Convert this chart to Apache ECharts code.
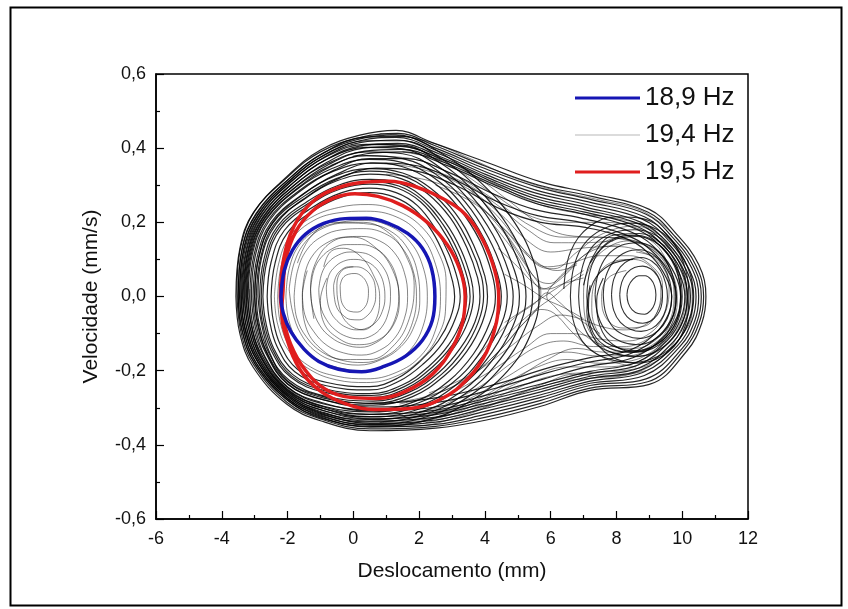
<!DOCTYPE html>
<html>
<head>
<meta charset="utf-8">
<script src="https://cdn.jsdelivr.net/npm/echarts@6/dist/echarts.min.js"></script>
<style>
html,body{margin:0;padding:0;background:#fff;}
#chart{width:848px;height:609px;}
</style>
</head>
<body>
<div id="chart"></div>
<script>
// Phase portraits: displacement (mm) vs velocity (mm/s)
const seriesNames = ['18,9 Hz', '19,4 Hz', '19,5 Hz'];

// 18,9 Hz — single periodic orbit in the left well
const orbit189 = [
  [-2.20,0.00],[-2.10,0.070],[-1.85,0.125],[-1.45,0.168],[-0.90,0.197],[-0.25,0.210],
  [0.40,0.211],[1.05,0.198],[1.65,0.170],[2.10,0.130],[2.38,0.075],[2.48,0.000],
  [2.40,-0.065],[2.10,-0.118],[1.60,-0.160],[0.95,-0.188],[0.25,-0.203],[-0.45,-0.196],
  [-1.05,-0.175],[-1.50,-0.142],[-1.90,-0.095],[-2.13,-0.045],[-2.20,0.00]
];

// 19,5 Hz — period-two orbit (outer loop followed by inner loop)
const orbit195 = [
  [-2.22,0.00],[-2.12,0.10],[-1.80,0.19],[-1.25,0.255],[-0.50,0.292],[0.30,0.308],[1.10,0.311],
  [1.90,0.296],[2.70,0.265],[3.40,0.222],[3.95,0.150],[4.30,0.070],[4.42,0.000],[4.35,-0.070],
  [4.05,-0.150],[3.50,-0.220],[2.70,-0.275],[1.70,-0.302],[0.70,-0.305],[-0.20,-0.290],
  [-1.00,-0.255],[-1.60,-0.200],[-2.00,-0.120],[-2.18,-0.040],
  [-2.15,0.00],[-2.05,0.10],[-1.75,0.175],[-1.25,0.230],[-0.60,0.265],[0.05,0.277],[0.75,0.270],
  [1.50,0.245],[2.25,0.200],[2.85,0.140],[3.25,0.070],[3.40,0.000],[3.32,-0.070],[3.00,-0.140],
  [2.40,-0.210],[1.60,-0.255],[0.70,-0.275],[-0.10,-0.272],[-0.85,-0.250],[-1.45,-0.200],
  [-1.90,-0.130],[-2.15,-0.050],[-2.22,0.00]
];

// 19,4 Hz — chaotic response, loops around both wells
const bothWellLoops = [
  [[-3.57,0],[-3.45,0.13],[-3.05,0.225],[-2.0,0.325],[-1.0,0.395],[0.2,0.435],[1.3,0.448],[2.4,0.415],[4.05,0.362],[5.7,0.309],[7.3,0.277],[9.0,0.235],[9.8,0.171],[10.5,0.086],[10.72,0],[10.6,-0.07],[10.14,-0.147],[9.0,-0.237],[7.2,-0.253],[5.7,-0.296],[4.05,-0.333],[2.5,-0.355],[0.5,-0.362],[-1.0,-0.335],[-2.03,-0.29],[-3.05,-0.19],[-3.45,-0.10],[-3.57,0]],
  [[-3.54,0.02],[-3.42,0.135],[-3.0,0.23],[-2.0,0.322],[-1.0,0.39],[0.25,0.43],[1.35,0.44],[2.45,0.408],[4.0,0.352],[5.65,0.3],[7.25,0.27],[8.95,0.228],[9.75,0.165],[10.42,0.083],[10.65,0.0],[10.52,-0.07],[10.06,-0.143],[8.95,-0.23],[7.2,-0.247],[5.7,-0.288],[4.0,-0.326],[2.5,-0.35],[0.5,-0.357],[-1.0,-0.33],[-2.02,-0.285],[-3.02,-0.185],[-3.42,-0.095],[-3.54,0.02]],
  [[-3.50,0],[-3.38,0.13],[-2.95,0.225],[-1.95,0.318],[-0.95,0.385],[0.2,0.425],[1.3,0.436],[2.5,0.40],[4.0,0.345],[5.6,0.295],[7.2,0.262],[8.9,0.222],[9.7,0.16],[10.35,0.08],[10.58,0],[10.45,-0.068],[10.0,-0.14],[8.9,-0.222],[7.2,-0.24],[5.7,-0.28],[4.0,-0.318],[2.5,-0.345],[0.5,-0.352],[-1.0,-0.325],[-2.0,-0.28],[-3.0,-0.18],[-3.38,-0.09],[-3.50,0]],
  [[-3.46,0],[-3.34,0.127],[-2.9,0.222],[-1.92,0.314],[-0.92,0.38],[0.2,0.42],[1.3,0.429],[2.55,0.393],[4.0,0.337],[5.55,0.287],[7.15,0.255],[8.85,0.215],[9.65,0.155],[10.28,0.078],[10.5,0],[10.38,-0.066],[9.92,-0.136],[8.85,-0.213],[7.2,-0.234],[5.7,-0.272],[4.0,-0.31],[2.5,-0.339],[0.5,-0.347],[-1.0,-0.32],[-2.0,-0.275],[-2.96,-0.178],[-3.34,-0.087],[-3.46,0]],
  [[-3.42,0],[-3.30,0.125],[-2.85,0.22],[-1.9,0.31],[-0.9,0.375],[0.2,0.415],[1.3,0.422],[2.6,0.385],[4.0,0.33],[5.5,0.28],[7.1,0.248],[8.8,0.208],[9.6,0.15],[10.2,0.075],[10.42,0],[10.3,-0.064],[9.85,-0.133],[8.8,-0.205],[7.2,-0.228],[5.7,-0.265],[4.0,-0.302],[2.5,-0.333],[0.5,-0.342],[-1.0,-0.315],[-2.0,-0.27],[-2.92,-0.175],[-3.3,-0.085],[-3.42,0]],
  [[-3.37,0],[-3.25,0.122],[-2.8,0.218],[-1.85,0.305],[-0.85,0.368],[0.25,0.407],[1.35,0.413],[2.65,0.377],[4.05,0.322],[5.5,0.272],[7.05,0.241],[8.75,0.2],[9.55,0.145],[10.12,0.072],[10.33,0],[10.21,-0.062],[9.78,-0.129],[8.75,-0.198],[7.2,-0.221],[5.7,-0.257],[4.0,-0.295],[2.45,-0.326],[0.5,-0.336],[-1.0,-0.31],[-2.0,-0.266],[-2.88,-0.172],[-3.25,-0.082],[-3.37,0]],
  [[-3.32,0],[-3.2,0.12],[-2.75,0.215],[-1.8,0.30],[-0.8,0.362],[0.3,0.40],[1.4,0.405],[2.7,0.37],[4.1,0.315],[5.5,0.265],[7.0,0.235],[8.7,0.195],[9.5,0.14],[10.05,0.07],[10.25,0],[10.13,-0.06],[9.7,-0.125],[8.7,-0.192],[7.2,-0.215],[5.7,-0.25],[4.0,-0.288],[2.4,-0.32],[0.5,-0.33],[-1.0,-0.305],[-2.0,-0.262],[-2.85,-0.17],[-3.2,-0.08],[-3.32,0]],
  [[-3.27,0],[-3.15,0.117],[-2.7,0.212],[-1.75,0.296],[-0.75,0.356],[0.35,0.392],[1.45,0.397],[2.75,0.362],[4.15,0.307],[5.5,0.258],[7.0,0.228],[8.65,0.188],[9.45,0.135],[9.98,0.068],[10.16,0],[10.05,-0.058],[9.62,-0.121],[8.65,-0.185],[7.2,-0.208],[5.7,-0.243],[4.0,-0.281],[2.4,-0.314],[0.5,-0.324],[-1.0,-0.3],[-2.0,-0.257],[-2.8,-0.167],[-3.15,-0.079],[-3.27,0]],
  [[-3.22,0],[-3.1,0.115],[-2.65,0.21],[-1.7,0.292],[-0.7,0.35],[0.4,0.385],[1.5,0.39],[2.8,0.355],[4.2,0.30],[5.5,0.252],[7.0,0.222],[8.6,0.182],[9.4,0.13],[9.9,0.065],[10.08,0],[9.97,-0.056],[9.55,-0.118],[8.6,-0.178],[7.2,-0.202],[5.7,-0.236],[4.0,-0.275],[2.4,-0.308],[0.5,-0.318],[-1.0,-0.295],[-2.0,-0.252],[-2.78,-0.165],[-3.1,-0.078],[-3.22,0]],
  [[-3.1,0],[-2.98,0.11],[-2.55,0.205],[-1.6,0.285],[-0.6,0.34],[0.5,0.372],[1.6,0.372],[2.9,0.335],[4.3,0.275],[5.5,0.235],[6.9,0.212],[8.5,0.172],[9.3,0.12],[9.78,0.06],[9.95,0],[9.84,-0.055],[9.4,-0.112],[8.5,-0.165],[7.1,-0.19],[5.8,-0.222],[4.2,-0.262],[2.5,-0.298],[0.5,-0.308],[-1.0,-0.285],[-2.0,-0.244],[-2.7,-0.16],[-3.0,-0.075],[-3.1,0]],
  [[-3.0,0],[-2.88,0.105],[-2.45,0.2],[-1.5,0.277],[-0.5,0.33],[0.6,0.36],[1.7,0.356],[3.0,0.318],[4.4,0.255],[5.6,0.218],[6.9,0.2],[8.4,0.162],[9.2,0.112],[9.65,0.055],[9.82,0],[9.72,-0.052],[9.3,-0.105],[8.4,-0.155],[7.1,-0.178],[5.8,-0.208],[4.3,-0.248],[2.6,-0.285],[0.5,-0.298],[-1.0,-0.276],[-2.0,-0.236],[-2.62,-0.155],[-2.9,-0.072],[-3.0,0]],
  [[-2.9,0],[-2.8,0.1],[-2.35,0.195],[-1.4,0.27],[-0.4,0.32],[0.7,0.346],[1.8,0.34],[3.1,0.3],[4.5,0.235],[5.7,0.2],[7.0,0.187],[8.4,0.152],[9.1,0.105],[9.52,0.05],[9.68,0],[9.58,-0.048],[9.2,-0.098],[8.4,-0.145],[7.2,-0.165],[5.9,-0.193],[4.4,-0.235],[2.6,-0.272],[0.5,-0.288],[-1.0,-0.268],[-2.0,-0.228],[-2.55,-0.15],[-2.8,-0.07],[-2.9,0]]
];

// 19,4 Hz — large loops confined to the left well, turning near the saddle
const leftOuterLoops = [
  [[-3.5,0],[-3.38,0.128],[-2.95,0.222],[-1.95,0.318],[-0.85,0.39],[0.35,0.43],[1.45,0.432],[2.7,0.385],[3.9,0.305],[4.9,0.2],[5.5,0.09],[5.65,0],[5.4,-0.1],[4.7,-0.2],[3.6,-0.28],[2.3,-0.332],[0.6,-0.35],[-0.9,-0.33],[-2.0,-0.28],[-2.98,-0.183],[-3.4,-0.088],[-3.5,0]],
  [[-3.45,0],[-3.33,0.125],[-2.9,0.22],[-1.9,0.315],[-0.8,0.385],[0.4,0.42],[1.5,0.42],[2.7,0.37],[3.8,0.29],[4.7,0.19],[5.3,0.08],[5.45,0],[5.2,-0.09],[4.5,-0.19],[3.5,-0.27],[2.2,-0.325],[0.6,-0.345],[-0.9,-0.325],[-2.0,-0.275],[-2.95,-0.18],[-3.35,-0.085],[-3.45,0]],
  [[-3.4,0],[-3.27,0.122],[-2.85,0.218],[-1.88,0.31],[-0.8,0.378],[0.4,0.41],[1.5,0.408],[2.65,0.36],[3.7,0.28],[4.55,0.18],[5.1,0.075],[5.25,0],[5.02,-0.085],[4.35,-0.182],[3.4,-0.262],[2.15,-0.318],[0.6,-0.338],[-0.9,-0.32],[-2.0,-0.27],[-2.9,-0.176],[-3.3,-0.083],[-3.4,0]],
  [[-3.35,0],[-3.22,0.12],[-2.8,0.215],[-1.85,0.305],[-0.8,0.37],[0.4,0.402],[1.5,0.398],[2.6,0.35],[3.6,0.27],[4.4,0.17],[4.9,0.07],[5.05,0],[4.85,-0.08],[4.2,-0.175],[3.3,-0.255],[2.1,-0.31],[0.6,-0.332],[-0.9,-0.315],[-2.0,-0.265],[-2.88,-0.172],[-3.25,-0.082],[-3.35,0]],
  [[-3.3,0],[-3.17,0.118],[-2.75,0.212],[-1.8,0.3],[-0.75,0.36],[0.4,0.39],[1.5,0.385],[2.55,0.34],[3.5,0.262],[4.25,0.165],[4.72,0.068],[4.86,0],[4.66,-0.078],[4.05,-0.17],[3.2,-0.248],[2.05,-0.302],[0.6,-0.325],[-0.9,-0.308],[-2.0,-0.26],[-2.84,-0.168],[-3.2,-0.08],[-3.3,0]],
  [[-3.25,0],[-3.12,0.118],[-2.7,0.21],[-1.75,0.295],[-0.7,0.352],[0.4,0.38],[1.5,0.372],[2.5,0.33],[3.4,0.255],[4.1,0.16],[4.55,0.065],[4.68,0],[4.5,-0.075],[3.9,-0.165],[3.1,-0.24],[2.0,-0.295],[0.6,-0.318],[-0.9,-0.302],[-2.0,-0.255],[-2.8,-0.165],[-3.15,-0.08],[-3.25,0]],
  [[-3.2,0],[-3.07,0.114],[-2.65,0.207],[-1.7,0.29],[-0.65,0.345],[0.45,0.37],[1.5,0.361],[2.45,0.32],[3.3,0.248],[3.98,0.155],[4.38,0.062],[4.5,0],[4.32,-0.072],[3.78,-0.16],[3.0,-0.234],[1.95,-0.288],[0.6,-0.311],[-0.9,-0.296],[-2.0,-0.25],[-2.76,-0.162],[-3.1,-0.078],[-3.2,0]],
  [[-3.15,0],[-3.02,0.112],[-2.6,0.205],[-1.65,0.285],[-0.6,0.338],[0.5,0.36],[1.5,0.35],[2.4,0.31],[3.2,0.24],[3.85,0.15],[4.22,0.06],[4.32,0],[4.15,-0.07],[3.65,-0.155],[2.9,-0.228],[1.9,-0.282],[0.6,-0.305],[-0.9,-0.29],[-2.0,-0.245],[-2.72,-0.16],[-3.05,-0.077],[-3.15,0]],
  [[-3.05,0],[-2.92,0.108],[-2.5,0.2],[-1.55,0.275],[-0.55,0.325],[0.5,0.345],[1.5,0.333],[2.35,0.292],[3.1,0.225],[3.65,0.14],[4.0,0.055],[4.08,0],[3.92,-0.07],[3.45,-0.148],[2.75,-0.215],[1.8,-0.27],[0.6,-0.293],[-0.9,-0.279],[-2.0,-0.236],[-2.65,-0.155],[-2.96,-0.073],[-3.05,0]],
  [[-3.0,0],[-2.87,0.106],[-2.45,0.198],[-1.5,0.27],[-0.52,0.318],[0.5,0.338],[1.48,0.326],[2.3,0.285],[3.02,0.218],[3.55,0.136],[3.9,0.052],[3.96,0],[3.8,-0.069],[3.35,-0.144],[2.68,-0.21],[1.75,-0.264],[0.6,-0.288],[-0.9,-0.274],[-1.98,-0.231],[-2.62,-0.152],[-2.92,-0.071],[-3.0,0]],
  [[-2.95,0],[-2.82,0.104],[-2.4,0.195],[-1.45,0.265],[-0.5,0.312],[0.5,0.33],[1.45,0.318],[2.25,0.278],[2.95,0.212],[3.45,0.132],[3.78,0.05],[3.85,0],[3.7,-0.068],[3.25,-0.14],[2.6,-0.205],[1.7,-0.258],[0.6,-0.282],[-0.9,-0.268],[-1.95,-0.226],[-2.58,-0.15],[-2.87,-0.07],[-2.95,0]],
  [[-2.85,0],[-2.72,0.1],[-2.3,0.19],[-1.4,0.256],[-0.45,0.3],[0.5,0.316],[1.4,0.305],[2.15,0.265],[2.8,0.2],[3.28,0.125],[3.58,0.048],[3.65,0],[3.5,-0.065],[3.08,-0.135],[2.45,-0.196],[1.6,-0.248],[0.6,-0.272],[-0.9,-0.258],[-1.9,-0.218],[-2.5,-0.145],[-2.77,-0.068],[-2.85,0]],
  [[-2.8,0],[-2.67,0.098],[-2.25,0.187],[-1.35,0.252],[-0.42,0.295],[0.5,0.31],[1.38,0.298],[2.1,0.26],[2.72,0.195],[3.18,0.122],[3.48,0.046],[3.55,0],[3.4,-0.064],[3.0,-0.132],[2.38,-0.192],[1.55,-0.243],[0.55,-0.267],[-0.9,-0.253],[-1.88,-0.214],[-2.46,-0.142],[-2.72,-0.067],[-2.8,0]],
  [[-2.75,0],[-2.62,0.097],[-2.2,0.184],[-1.3,0.248],[-0.4,0.29],[0.5,0.303],[1.35,0.292],[2.05,0.255],[2.65,0.19],[3.1,0.118],[3.38,0.045],[3.45,0],[3.3,-0.063],[2.9,-0.13],[2.3,-0.188],[1.5,-0.238],[0.5,-0.262],[-0.9,-0.248],[-1.85,-0.21],[-2.42,-0.14],[-2.67,-0.066],[-2.75,0]],
  [[-2.62,0],[-2.5,0.093],[-2.1,0.178],[-1.25,0.24],[-0.35,0.28],[0.5,0.292],[1.3,0.28],[1.95,0.245],[2.5,0.182],[2.92,0.112],[3.18,0.043],[3.25,0],[3.1,-0.06],[2.72,-0.125],[2.15,-0.18],[1.4,-0.228],[0.5,-0.252],[-0.85,-0.24],[-1.78,-0.203],[-2.32,-0.135],[-2.55,-0.064],[-2.62,0]],
  [[-2.5,0],[-2.38,0.09],[-2.0,0.172],[-1.2,0.232],[-0.3,0.27],[0.5,0.28],[1.25,0.268],[1.88,0.234],[2.4,0.175],[2.78,0.107],[3.02,0.04],[3.08,0],[2.95,-0.058],[2.58,-0.12],[2.05,-0.173],[1.35,-0.22],[0.5,-0.243],[-0.8,-0.232],[-1.7,-0.196],[-2.22,-0.13],[-2.44,-0.062],[-2.5,0]]
];

// 19,4 Hz — small loops and spirals around the left equilibrium
const leftInnerLoops = [
  [[-2.4,0],[-2.28,0.085],[-1.95,0.16],[-1.3,0.212],[-0.45,0.24],[0.45,0.248],[1.3,0.232],[2.05,0.19],[2.58,0.12],[2.82,0.04],[2.8,-0.04],[2.55,-0.11],[2.05,-0.17],[1.3,-0.215],[0.4,-0.232],[-0.5,-0.225],[-1.3,-0.198],[-1.95,-0.148],[-2.3,-0.075],[-2.4,0]],
  [[-2.3,0],[-2.2,0.08],[-1.9,0.15],[-1.3,0.2],[-0.5,0.225],[0.4,0.23],[1.3,0.215],[2.0,0.17],[2.45,0.1],[2.65,0],[2.5,-0.09],[2.05,-0.16],[1.3,-0.205],[0.4,-0.222],[-0.5,-0.215],[-1.3,-0.19],[-1.9,-0.14],[-2.22,-0.07],[-2.3,0]],
  [[-2.05,0],[-1.95,0.075],[-1.65,0.138],[-1.1,0.18],[-0.4,0.2],[0.35,0.205],[1.1,0.19],[1.7,0.15],[2.1,0.085],[2.25,0],[2.12,-0.08],[1.72,-0.145],[1.1,-0.185],[0.35,-0.2],[-0.4,-0.193],[-1.1,-0.17],[-1.65,-0.125],[-1.96,-0.065],[-2.05,0]],
  [[-1.95,0.02],[-1.8,0.09],[-1.45,0.148],[-0.9,0.185],[-0.2,0.198],[0.5,0.195],[1.15,0.175],[1.65,0.13],[1.95,0.065],[2.02,-0.01],[1.85,-0.08],[1.45,-0.135],[0.85,-0.17],[0.15,-0.185],[-0.55,-0.175],[-1.15,-0.148],[-1.6,-0.1],[-1.85,-0.04],[-1.95,0.02]],
  [[-1.8,0],[-1.7,0.068],[-1.42,0.125],[-0.95,0.162],[-0.35,0.18],[0.3,0.183],[0.95,0.17],[1.45,0.135],[1.8,0.075],[1.92,0],[1.8,-0.07],[1.45,-0.128],[0.9,-0.165],[0.3,-0.178],[-0.35,-0.172],[-0.95,-0.15],[-1.42,-0.11],[-1.72,-0.058],[-1.8,0]],
  [[-1.55,0.01],[-1.45,0.07],[-1.2,0.115],[-0.8,0.145],[-0.3,0.16],[0.25,0.162],[0.8,0.15],[1.25,0.118],[1.55,0.065],[1.65,0],[1.55,-0.06],[1.25,-0.113],[0.8,-0.145],[0.25,-0.158],[-0.3,-0.152],[-0.8,-0.132],[-1.2,-0.095],[-1.48,-0.048],[-1.55,0.01]],
  [[-1.3,0.02],[-1.2,0.07],[-0.98,0.105],[-0.62,0.13],[-0.2,0.14],[0.25,0.14],[0.7,0.128],[1.05,0.1],[1.3,0.055],[1.38,0],[1.3,-0.052],[1.05,-0.097],[0.68,-0.125],[0.22,-0.137],[-0.25,-0.13],[-0.68,-0.11],[-1.02,-0.078],[-1.24,-0.03],[-1.3,0.02]],
  [[-1.05,0.02],[-0.96,0.062],[-0.76,0.092],[-0.45,0.112],[-0.1,0.12],[0.28,0.118],[0.62,0.105],[0.9,0.08],[1.08,0.045],[1.13,0],[1.06,-0.045],[0.86,-0.083],[0.55,-0.106],[0.18,-0.114],[-0.2,-0.108],[-0.55,-0.09],[-0.82,-0.062],[-1.0,-0.025],[-1.05,0.02]],
  [[-0.82,0.025],[-0.74,0.058],[-0.56,0.08],[-0.3,0.095],[0.0,0.1],[0.3,0.097],[0.58,0.085],[0.8,0.062],[0.93,0.03],[0.96,-0.005],[0.88,-0.04],[0.7,-0.068],[0.42,-0.085],[0.1,-0.09],[-0.22,-0.083],[-0.5,-0.065],[-0.7,-0.04],[-0.8,-0.005],[-0.82,0.025]],
  [[-0.6,0.03],[-0.52,0.055],[-0.36,0.072],[-0.14,0.08],[0.1,0.08],[0.35,0.073],[0.55,0.055],[0.66,0.03],[0.68,0.0],[0.6,-0.03],[0.42,-0.052],[0.18,-0.063],[-0.08,-0.062],[-0.32,-0.05],[-0.5,-0.03],[-0.58,0.0],[-0.6,0.03]],
  [[-0.4,0.03],[-0.32,0.05],[-0.15,0.06],[0.05,0.062],[0.25,0.055],[0.4,0.038],[0.46,0.015],[0.44,-0.01],[0.32,-0.032],[0.12,-0.042],[-0.1,-0.04],[-0.28,-0.028],[-0.38,-0.005],[-0.4,0.03]],
  [[-0.9,0.08],[-0.7,0.12],[-0.3,0.13],[0.2,0.11],[0.6,0.06],[0.8,0.0],[0.7,-0.06],[0.3,-0.09],[-0.2,-0.07],[-0.45,-0.02],[-0.5,0.03],[-0.35,0.07],[0.0,0.08]],
  [[-1.2,-0.06],[-1.3,0.02],[-1.1,0.1],[-0.6,0.15],[0.0,0.16],[0.7,0.13],[1.2,0.07],[1.4,-0.01],[1.2,-0.08],[0.7,-0.12],[0.1,-0.13],[-0.5,-0.11],[-0.9,-0.07],[-1.0,-0.01],[-0.8,0.05]],
  [[-1.7,0.09],[-1.3,0.16],[-0.6,0.2],[0.3,0.2],[1.1,0.17],[1.6,0.11],[1.85,0.03],[1.7,-0.06],[1.25,-0.13],[0.5,-0.17],[-0.3,-0.17],[-1.0,-0.14],[-1.45,-0.08],[-1.55,0.0],[-1.4,0.07]]
];

// 19,4 Hz — loops around the right equilibrium
const rightWellLoops = [
  [[6.6,0],[6.72,0.085],[7.1,0.15],[7.75,0.188],[8.5,0.198],[9.25,0.18],[9.85,0.13],[10.22,0.065],[10.35,0],[10.22,-0.065],[9.85,-0.122],[9.25,-0.162],[8.5,-0.178],[7.75,-0.168],[7.1,-0.135],[6.72,-0.075],[6.6,0]],
  [[6.85,0],[6.96,0.078],[7.3,0.138],[7.9,0.172],[8.55,0.18],[9.2,0.165],[9.72,0.12],[10.05,0.06],[10.15,0],[10.05,-0.06],[9.72,-0.112],[9.2,-0.148],[8.55,-0.162],[7.9,-0.152],[7.3,-0.122],[6.96,-0.068],[6.85,0]],
  [[7.1,0],[7.2,0.07],[7.5,0.124],[8.0,0.155],[8.6,0.162],[9.15,0.148],[9.6,0.108],[9.88,0.054],[9.97,0],[9.88,-0.054],[9.6,-0.1],[9.15,-0.133],[8.6,-0.146],[8.0,-0.137],[7.5,-0.11],[7.2,-0.06],[7.1,0]],
  [[7.35,0.005],[7.45,0.063],[7.72,0.11],[8.15,0.138],[8.65,0.145],[9.12,0.132],[9.5,0.096],[9.74,0.048],[9.82,0],[9.74,-0.048],[9.5,-0.09],[9.12,-0.118],[8.65,-0.13],[8.15,-0.122],[7.72,-0.097],[7.45,-0.054],[7.35,0.005]],
  [[7.6,0.005],[7.68,0.055],[7.92,0.095],[8.3,0.12],[8.7,0.126],[9.1,0.114],[9.42,0.083],[9.62,0.042],[9.68,0],[9.62,-0.042],[9.42,-0.078],[9.1,-0.103],[8.7,-0.113],[8.3,-0.106],[7.92,-0.085],[7.68,-0.046],[7.6,0.005]],
  [[7.85,0.005],[7.92,0.047],[8.12,0.08],[8.42,0.1],[8.75,0.105],[9.08,0.095],[9.34,0.07],[9.5,0.035],[9.55,0],[9.5,-0.035],[9.34,-0.065],[9.08,-0.086],[8.75,-0.094],[8.42,-0.088],[8.12,-0.07],[7.92,-0.038],[7.85,0.005]],
  [[8.1,0.005],[8.16,0.038],[8.32,0.064],[8.55,0.078],[8.8,0.082],[9.05,0.074],[9.25,0.055],[9.37,0.028],[9.4,0],[9.36,-0.028],[9.24,-0.05],[9.04,-0.066],[8.8,-0.072],[8.55,-0.068],[8.32,-0.054],[8.16,-0.03],[8.1,0.005]],
  [[8.32,0.005],[8.37,0.028],[8.5,0.046],[8.68,0.056],[8.88,0.056],[9.05,0.046],[9.16,0.028],[9.2,0.005],[9.16,-0.02],[9.04,-0.038],[8.86,-0.048],[8.66,-0.046],[8.48,-0.036],[8.36,-0.018],[8.32,0.005]],
  [[6.4,0.02],[6.6,0.12],[7.2,0.19],[8.0,0.215],[8.8,0.21],[9.5,0.17],[10.0,0.1],[10.2,0.0],[10.0,-0.1],[9.4,-0.16],[8.6,-0.18],[7.8,-0.16],[7.3,-0.11],[7.1,-0.04],[7.2,0.03]],
  [[7.0,0.03],[7.3,0.11],[7.9,0.165],[8.7,0.17],[9.4,0.14],[9.85,0.08],[10.0,0.0],[9.8,-0.08],[9.3,-0.13],[8.6,-0.15],[7.9,-0.13],[7.5,-0.08],[7.4,-0.01],[7.6,0.05]],
  [[7.2,0.09],[7.8,0.15],[8.6,0.165],[9.3,0.14],[9.8,0.08],[9.95,0.0],[9.75,-0.08],[9.2,-0.13],[8.5,-0.15],[7.8,-0.14],[7.3,-0.1],[7.15,-0.03],[7.3,0.04],[7.8,0.085],[8.5,0.1]]
];

// 19,4 Hz — transitions between the wells and passages near the saddle
const crossingPaths = [
  [[0.5,0.41],[1.8,0.4],[3.0,0.35],[4.2,0.28],[5.3,0.22],[6.4,0.2],[7.5,0.2],[8.6,0.185],[9.4,0.14],[9.95,0.07],[10.1,0.0],[9.95,-0.07],[9.5,-0.13],[8.8,-0.16],[8.0,-0.155],[7.4,-0.12],[7.05,-0.06],[7.0,0.01],[7.2,0.08],[7.7,0.13],[8.4,0.15],[9.1,0.13],[9.6,0.08],[9.78,0.0],[9.6,-0.08],[9.1,-0.13],[8.4,-0.15],[7.6,-0.15],[6.8,-0.14],[5.9,-0.17],[4.8,-0.23],[3.6,-0.29],[2.2,-0.32],[0.8,-0.33],[-0.6,-0.31],[-1.8,-0.26],[-2.7,-0.17],[-3.1,-0.07],[-3.15,0.02]],
  [[-3.3,0.05],[-3.1,0.15],[-2.5,0.24],[-1.5,0.33],[-0.3,0.39],[1.0,0.41],[2.3,0.385],[3.6,0.33],[4.7,0.26],[5.6,0.2],[6.5,0.165],[7.4,0.16],[8.3,0.155],[9.1,0.125],[9.6,0.07],[9.75,0.0],[9.6,-0.07],[9.15,-0.12],[8.5,-0.14],[7.8,-0.13],[7.4,-0.09],[7.25,-0.03],[7.35,0.04],[7.8,0.09],[8.5,0.1],[9.1,0.075],[9.35,0.02],[9.25,-0.04],[8.85,-0.08],[8.2,-0.085],[7.7,-0.06],[7.55,0.0],[7.75,0.05],[8.3,0.07]],
  [[8.6,0.12],[9.3,0.1],[9.7,0.05],[9.8,-0.02],[9.6,-0.09],[9.1,-0.15],[8.3,-0.185],[7.4,-0.19],[6.5,-0.19],[5.6,-0.21],[4.6,-0.25],[3.5,-0.3],[2.2,-0.335],[0.8,-0.345],[-0.6,-0.325],[-1.8,-0.28],[-2.8,-0.19],[-3.3,-0.09],[-3.4,0.0]],
  [[9.0,0.16],[9.7,0.12],[10.1,0.05],[10.15,-0.03],[9.9,-0.1],[9.3,-0.17],[8.4,-0.21],[7.3,-0.22],[6.3,-0.23],[5.3,-0.255],[4.3,-0.29],[3.2,-0.325],[1.8,-0.35],[0.3,-0.35],[-1.1,-0.32],[-2.2,-0.26],[-3.0,-0.16],[-3.35,-0.06]],
  [[0.0,0.38],[1.5,0.375],[3.0,0.33],[4.3,0.26],[5.4,0.19],[6.4,0.16],[7.4,0.16],[8.4,0.15],[9.2,0.12],[9.7,0.06],[9.85,-0.01],[9.65,-0.08],[9.1,-0.135],[8.3,-0.16],[7.4,-0.16],[6.5,-0.15],[5.6,-0.17],[4.6,-0.22],[3.4,-0.28],[2.0,-0.31]],
  [[0.5,0.36],[2.0,0.345],[3.4,0.295],[4.5,0.22],[5.3,0.15],[6.0,0.12],[6.9,0.13],[7.9,0.135],[8.8,0.12],[9.4,0.08],[9.6,0.02],[9.45,-0.05],[9.0,-0.1],[8.3,-0.12],[7.5,-0.115],[6.7,-0.1],[6.0,-0.1],[5.2,-0.14],[4.2,-0.2],[3.0,-0.26]],
  [[1.0,0.33],[2.4,0.31],[3.6,0.26],[4.6,0.18],[5.3,0.11],[5.9,0.08],[6.6,0.09],[7.5,0.11],[8.4,0.11],[9.1,0.08],[9.4,0.03],[9.3,-0.03],[8.9,-0.075],[8.2,-0.09],[7.5,-0.08],[6.9,-0.06],[6.3,-0.05],[5.6,-0.08],[4.7,-0.14],[3.6,-0.21],[2.3,-0.26]],
  [[1.5,0.39],[3.0,0.36],[4.4,0.3],[5.6,0.25],[6.8,0.225],[8.0,0.21],[9.0,0.185],[9.8,0.12],[10.3,0.04],[10.3,-0.04],[9.95,-0.11],[9.2,-0.175],[8.2,-0.2],[7.1,-0.205],[6.0,-0.215],[4.9,-0.25],[3.7,-0.3],[2.3,-0.33],[0.8,-0.34]],
  [[0.8,0.44],[2.2,0.42],[3.6,0.37],[4.9,0.32],[6.2,0.285],[7.5,0.26],[8.8,0.23],[9.7,0.17]],
  [[2.0,0.35],[3.3,0.31],[4.4,0.245],[5.3,0.18],[6.1,0.145],[7.0,0.145],[7.9,0.15]],
  [[2.5,0.3],[3.6,0.255],[4.5,0.19],[5.2,0.125],[5.7,0.085],[6.2,0.07],[6.8,0.085]],
  [[9.5,-0.12],[8.6,-0.17],[7.5,-0.18],[6.5,-0.17],[5.6,-0.19],[4.7,-0.23],[3.7,-0.28],[2.5,-0.31]],
  [[9.2,-0.1],[8.3,-0.135],[7.3,-0.135],[6.4,-0.12],[5.6,-0.135],[4.8,-0.18],[3.9,-0.24],[2.8,-0.29]],
  [[8.9,-0.2],[7.8,-0.215],[6.7,-0.21],[5.8,-0.235],[4.8,-0.27],[3.6,-0.31],[2.2,-0.34]],
  [[3.8,0.25],[4.6,0.17],[5.2,0.09],[5.6,0.045],[5.95,0.035],[6.4,0.06],[7.0,0.11],[7.7,0.15],[8.5,0.165],[9.2,0.14],[9.6,0.08]],
  [[3.9,0.26],[4.8,0.15],[5.4,0.065],[5.7,0.015],[5.6,-0.03],[5.1,-0.08],[4.4,-0.15],[3.6,-0.21],[2.6,-0.26],[1.4,-0.29]],
  [[8.2,-0.15],[7.3,-0.12],[6.6,-0.07],[6.1,-0.025],[5.88,0.0],[6.05,0.03],[6.6,0.08],[7.3,0.125],[8.1,0.14]],
  [[8.6,-0.19],[7.6,-0.165],[6.7,-0.1],[6.1,-0.045],[5.7,-0.035],[5.2,-0.07],[4.5,-0.14],[3.5,-0.22],[2.2,-0.27],[0.8,-0.29]],
  [[3.5,0.29],[4.4,0.215],[5.1,0.135],[5.6,0.085],[6.1,0.075],[6.8,0.12],[7.6,0.17],[8.6,0.19],[9.4,0.16]],
  [[4.2,0.2],[4.9,0.12],[5.4,0.05],[5.75,0.02],[6.2,0.04],[6.8,0.09]],
  [[7.5,-0.1],[6.7,-0.05],[6.2,-0.01],[5.9,0.01],[5.5,-0.02],[5.0,-0.05],[4.4,-0.1],[3.7,-0.17]],
  [[7.0,0.06],[6.5,0.03],[6.1,0.0],[5.7,-0.025],[5.2,-0.06],[4.6,-0.11]],
  [[4.4,0.13],[5.0,0.08],[5.5,0.035],[5.9,0.02],[6.4,0.035],[7.0,0.05]],
  [[4.6,0.06],[5.2,0.03],[5.8,-0.005],[6.4,-0.03],[7.0,-0.06]],
  [[4.6,-0.07],[5.2,-0.035],[5.8,0.0],[6.4,0.035],[7.0,0.07]]
];

const FONT = '"Liberation Sans", Arial, sans-serif';
const chart = echarts.init(document.getElementById('chart'), null, { renderer: 'canvas' });

// outer groups drawn a little heavier than the sparse inner spirals
const chaoticGroups = [
  { paths: bothWellLoops, width: 1.2, opacity: 0.85 },
  { paths: leftOuterLoops, width: 1.2, opacity: 0.85 },
  { paths: leftInnerLoops, width: 0.8, opacity: 0.6 },
  { paths: rightWellLoops, width: 1.1, opacity: 0.8 },
  { paths: crossingPaths, width: 0.8, opacity: 0.6 }
];
const series = [];
chaoticGroups.forEach(group => {
  group.paths.forEach(path => {
    series.push({
      name: seriesNames[1], type: 'line', data: path, symbol: 'none', smooth: 0.4,
      silent: true, z: 2,
      lineStyle: { color: '#000', width: group.width, opacity: group.opacity }
    });
  });
});
series.push({
  name: seriesNames[2], type: 'line', data: orbit195, symbol: 'none', smooth: 0.4,
  silent: true, z: 3, lineStyle: { color: '#e01e1e', width: 3.5 }
});
series.push({
  name: seriesNames[0], type: 'line', data: orbit189, symbol: 'none', smooth: 0.4,
  silent: true, z: 4, lineStyle: { color: '#1616b4', width: 3.5 }
});

const commaFmt = v => (Math.abs(v) < 1e-9 ? '0,0' : v.toFixed(1).replace('.', ','));

chart.setOption({
  animation: false,
  backgroundColor: '#fff',
  grid: { left: 156, top: 74, width: 592, height: 445, show: true, borderColor: '#000', borderWidth: 1.5, backgroundColor: 'transparent' },
  legend: {
    left: 570, top: 80, orient: 'vertical', itemWidth: 65, itemHeight: 12, itemGap: 11,
    selectedMode: false,
    textStyle: { fontFamily: FONT, fontSize: 26, color: '#111' },
    data: [
      { name: seriesNames[0], icon: 'path://M0,0H65V3H0Z', itemStyle: { color: '#1616b4' } },
      { name: seriesNames[1], icon: 'path://M0,0H65V1H0Z', itemStyle: { color: '#b8b8b8' } },
      { name: seriesNames[2], icon: 'path://M0,0H65V3H0Z', itemStyle: { color: '#e01e1e' } }
    ]
  },
  xAxis: {
    type: 'value', min: -6, max: 12, interval: 2,
    name: 'Deslocamento (mm)', nameLocation: 'middle', nameGap: 42,
    nameTextStyle: { fontFamily: FONT, fontSize: 21, color: '#111' },
    axisLine: { onZero: false, lineStyle: { color: '#000', width: 1.5 } },
    axisTick: { inside: true, length: 8, lineStyle: { color: '#000', width: 1.2 } },
    minorTick: { show: true, splitNumber: 2, length: 4, lineStyle: { color: '#000', width: 1.2 } },
    axisLabel: { fontFamily: FONT, fontSize: 18, color: '#111', margin: 11 },
    splitLine: { show: false }
  },
  yAxis: {
    type: 'value', min: -0.6, max: 0.6, interval: 0.2,
    name: 'Velocidade (mm/s)', nameLocation: 'middle', nameGap: 54, nameRotate: 90,
    nameTextStyle: { fontFamily: FONT, fontSize: 21, color: '#111' },
    axisLine: { onZero: false, lineStyle: { color: '#000', width: 1.5 } },
    axisTick: { inside: true, length: 8, lineStyle: { color: '#000', width: 1.2 } },
    minorTick: { show: true, splitNumber: 2, length: 4, lineStyle: { color: '#000', width: 1.2 } },
    axisLabel: { fontFamily: FONT, fontSize: 18, color: '#111', margin: 10, formatter: commaFmt },
    splitLine: { show: false }
  },
  graphic: [{
    type: 'rect', left: 8, top: 5, silent: true, z: 100,
    shape: { width: 831, height: 598 },
    style: { fill: 'none', stroke: '#000', lineWidth: 2 }
  }],
  series: series
});
</script>
</body>
</html>
